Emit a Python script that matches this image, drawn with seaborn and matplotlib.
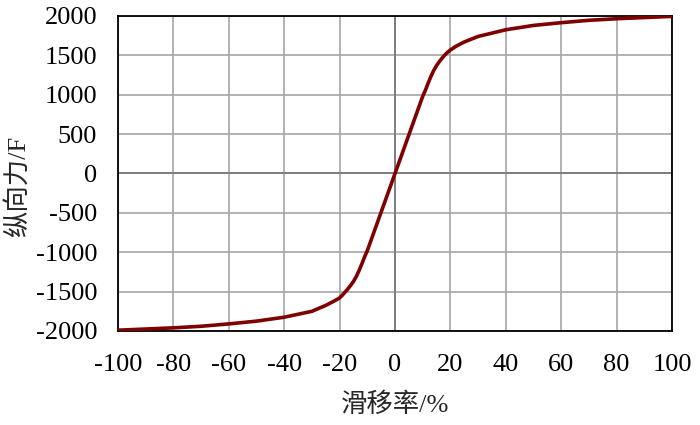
import numpy as np
import pandas as pd
import matplotlib
matplotlib.use("Agg")
import matplotlib.pyplot as plt
import seaborn as sns

# slip ratio (%) vs longitudinal force
slip = [-100, -90, -80, -70, -60, -50, -40, -30, -25, -22, -20, -19, -18, -17,
        -16, -15, -14, -13, -12, -11, -10, -5, 0, 5, 10, 11, 12, 13, 14, 15, 16,
        17, 18, 19, 20, 22, 25, 30, 40, 50, 60, 70, 80, 90, 100]
force = [-1990, -1975, -1960, -1940, -1910, -1875, -1825, -1750, -1675, -1620,
         -1580, -1545, -1505, -1465, -1420, -1370, -1310, -1235, -1150, -1060,
         -980, -490, 0, 490, 980, 1060, 1150, 1235, 1310, 1370, 1420, 1465, 1505,
         1540, 1568, 1615, 1670, 1740, 1825, 1880, 1915, 1945, 1965, 1980, 1995]

xticks = list(range(-100, 101, 20))
yticks = list(range(-2000, 2001, 500))

df = pd.DataFrame({"slip": slip, "force": force})

sns.set_style("white")
plt.rcParams['font.family'] = ['Liberation Serif', 'Noto Sans CJK SC', 'DejaVu Sans']
plt.rcParams['axes.unicode_minus'] = False

fig = plt.figure(figsize=(7, 4.25), dpi=100)
ax = fig.add_axes([0.1686, 0.2212, 0.7914, 0.7412])

ax.set_xlim(-100, 100)
ax.set_ylim(-2000, 2000)
ax.set_xticks(xticks)
ax.set_yticks(yticks)
ax.grid(True, color="#a6a6a6", linewidth=1.2)
ax.axvline(0, color="#7a7a7a", linewidth=1.3, zorder=1)
ax.axhline(0, color="#7a7a7a", linewidth=1.3, zorder=1)

sns.lineplot(data=df, x="slip", y="force", ax=ax, color="#7f0000",
             linewidth=2.6, zorder=3)

for s in ax.spines.values():
    s.set_color("black")
    s.set_linewidth(1.3)

ax.tick_params(axis="both", length=0, labelsize=19, colors="black")
ax.tick_params(axis="y", pad=15)
ax.tick_params(axis="x", pad=16.5)

ax.set_xlabel("滑移率/%", fontsize=19, va="center")
ax.set_ylabel("纵向力/F", fontsize=19, va="center")
ax.xaxis.set_label_coords(0.5, -0.235)
ax.yaxis.set_label_coords(-0.182, 0.46)

fig.savefig("out.png", dpi=100)
